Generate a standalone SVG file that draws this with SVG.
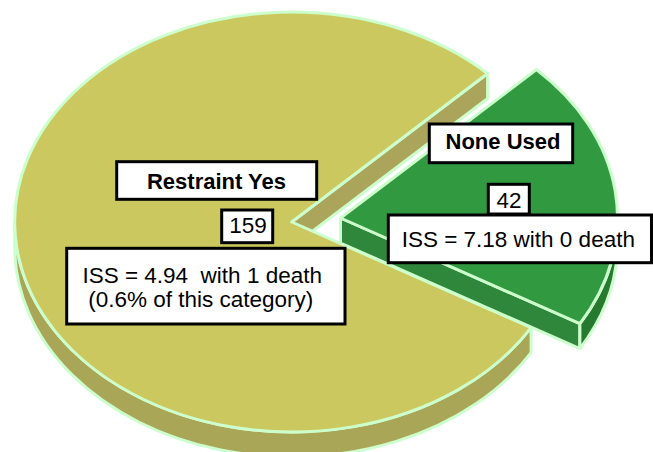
<svg xmlns="http://www.w3.org/2000/svg" width="653" height="452" viewBox="0 0 653 452">
<style>
.edge{stroke:#ccffcc;stroke-width:3;stroke-linejoin:round}
.ytop{fill:#ccc860}
.yside{fill:#aaa657}
.ystrip{fill:#aaa55b}
.gtop{fill:#319a41}
.gside{fill:#2e873a}
.grim{fill:#267a2f}
.box{fill:#ffffff;stroke:#000000;stroke-width:3}
.t{font-family:"Liberation Sans",Arial,sans-serif;font-size:22.5px;fill:#000000;text-anchor:middle}
.b{font-weight:bold;font-size:22px}
</style>
<rect width="653" height="452" fill="#ffffff"/>
<g id="slice-restraint-yes">
  <path class="yside edge" d="M14.7,222 A277,210 0 0 0 531.1,327.6 L531.1,352.6 A277,210 0 0 1 14.7,247 Z"/>
  <polygon class="ystrip edge" points="291.7,222 487.6,73.5 487.6,98.5 291.7,247"/>
  <path class="ytop edge" d="M291.7,222 L487.6,73.5 A277,210 0 1 0 531.1,327.6 Z"/>
</g>
<g id="slice-none-used">
  <polygon class="gside edge" points="340.5,218 579.9,323.6 579.9,348.6 340.5,243"/>
  <path class="grim edge" d="M617.5,218 A277,210 0 0 1 579.9,323.6 L579.9,348.6 A277,210 0 0 0 617.5,243 Z"/>
  <path class="gtop edge" d="M340.5,218 L536.4,69.5 A277,210 0 0 1 579.9,323.6 Z"/>
</g>
<g id="label-restraint-yes">
  <rect class="box" x="116.7" y="161.7" width="200" height="37.6"/>
  <text class="t b" x="216.5" y="189.3">Restraint Yes</text>
</g>
<g id="label-159">
  <rect class="box" x="221.7" y="210" width="51" height="32.7"/>
  <text class="t" x="248" y="233.3">159</text>
</g>
<g id="label-iss-yes">
  <rect class="box" x="66.7" y="248.3" width="278.3" height="75.7"/>
  <text class="t" x="202.2" y="282.7" xml:space="preserve">ISS = 4.94  with 1 death</text>
  <text class="t" x="200.8" y="306.7">(0.6% of this category)</text>
</g>
<g id="label-none-used">
  <rect class="box" x="429.3" y="124" width="143.4" height="38.7"/>
  <text class="t b" x="503" y="149.3">None Used</text>
</g>
<g id="label-42">
  <rect class="box" x="488.3" y="184.3" width="41" height="29.7"/>
  <text class="t" x="509" y="208.3">42</text>
</g>
<g id="label-iss-none">
  <rect class="box" x="388.3" y="215" width="263.2" height="47.7"/>
  <text class="t" x="518.3" y="246.7">ISS = 7.18 with 0 death</text>
</g>
</svg>
